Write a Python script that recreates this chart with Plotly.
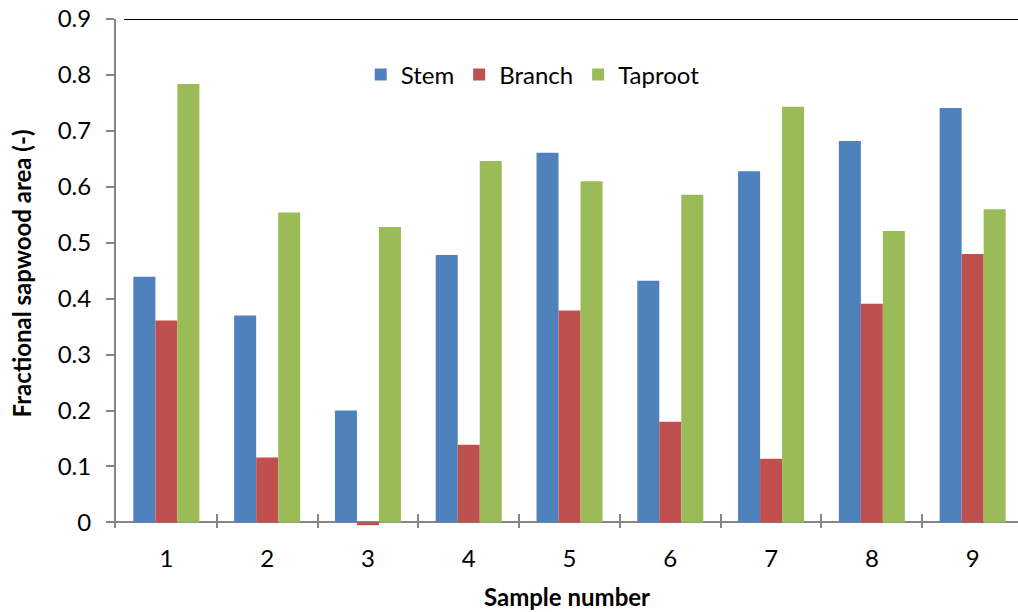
import plotly.graph_objects as go

samples = ["1", "2", "3", "4", "5", "6", "7", "8", "9"]
stem = [0.439, 0.370, 0.200, 0.478, 0.661, 0.432, 0.628, 0.682, 0.741]
branch = [0.361, 0.116, -0.005, 0.139, 0.379, 0.180, 0.114, 0.391, 0.480]
taproot = [0.784, 0.554, 0.528, 0.646, 0.610, 0.586, 0.743, 0.521, 0.560]
y_ticks = [0, 0.1, 0.2, 0.3, 0.4, 0.5, 0.6, 0.7, 0.8, 0.9]
y_tick_text = ["0", "0.1", "0.2", "0.3", "0.4", "0.5", "0.6", "0.7", "0.8", "0.9"]

FONT = "Lato"
AXIS_GREY = "#868686"

fig = go.Figure()
for name, vals, color in [("Stem", stem, "#4F81BD"),
                          ("Branch", branch, "#C0504D"),
                          ("Taproot", taproot, "#9BBB59")]:
    fig.add_trace(go.Bar(x=samples, y=vals, name=name,
                         marker=dict(color=color, line=dict(width=0))))

fig.update_layout(
    width=1018, height=612,
    margin=dict(l=116, r=0, t=19, b=84),
    paper_bgcolor="white", plot_bgcolor="white",
    barmode="group", bargap=0.345, bargroupgap=0,
    font=dict(family=FONT, color="black", size=24),
    legend=dict(orientation="h", x=0.462, y=0.89, xanchor="center",
                yanchor="middle", font=dict(size=24), bgcolor="rgba(0,0,0,0)",
                itemwidth=30, tracegroupgap=0),
    xaxis=dict(
        type="category", range=[-0.5, 8.45],
        showline=False, showgrid=False, zeroline=False,
        ticks="inside", ticklen=14, tickwidth=2, tickcolor=AXIS_GREY,
        tickson="boundaries",
        tickfont=dict(size=24), ticklabelstandoff=14,
        title=dict(text="<b>Sample number</b>", font=dict(size=24), standoff=18),
    ),
    yaxis=dict(
        range=[-0.01, 0.9],
        tickvals=y_ticks, ticktext=y_tick_text,
        showline=True, linecolor=AXIS_GREY, linewidth=2,
        ticks="outside", ticklen=8, tickwidth=2, tickcolor=AXIS_GREY,
        showgrid=False,
        zeroline=True, zerolinecolor=AXIS_GREY, zerolinewidth=2,
        tickfont=dict(size=24), ticklabelstandoff=10,
        title=dict(text="<b>Fractional sapwood area (-)</b>", font=dict(size=24),
                   standoff=19),
    ),
)

# top border of the plotting area at the 0.9 level
fig.add_shape(type="line", xref="paper", yref="y", x0=0.009, x1=1.0,
              y0=0.9, y1=0.9, line=dict(color="black", width=2), layer="above")

fig.write_html("out.html")
